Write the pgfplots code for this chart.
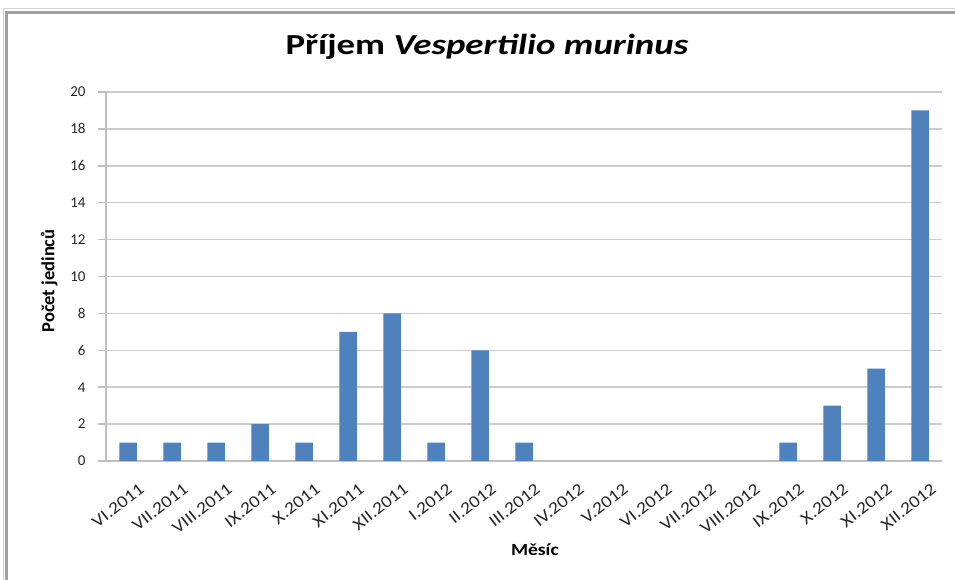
\documentclass[border=0pt]{standalone}
\usepackage{fontspec}
\setmainfont{Carlito}
\newfontfamily\titlefont[FakeStretch=1.27]{Carlito}
\newfontfamily\wfont[FakeStretch=1.15]{Carlito}
\newfontfamily\tfont[FakeStretch=1.15]{Carlito}
\usepackage{pgfplots}
\pgfplotsset{compat=1.18}
\definecolor{barblue}{HTML}{4F81BD}
\definecolor{gridgray}{HTML}{CCCCCC}
\definecolor{axgray}{HTML}{BFBFBF}
\definecolor{txt}{HTML}{262626}
\begin{document}
\begin{tikzpicture}[x=1pt,y=1pt]
\useasboundingbox (0,0) rectangle (955,580);
\fill[white] (0,0) rectangle (955,580);
\draw[line width=1pt, color=gray!35] (3,0) -- (3,571) -- (955,571);
\draw[line width=2.5pt, color=gray!75] (6.5,0) -- (6.5,567.5) -- (955,567.5);
\node[font=\titlefont\bfseries\fontsize{29}{33}\selectfont, text=black] at (487pt,533pt) {Příjem \textit{Vespertilio murinus}};
\begin{axis}[
  at={(106pt,119pt)}, anchor=south west,
  scale only axis, width=836pt, height=369pt,
  ymin=0, ymax=20, xmin=-0.5, xmax=18.5,
  ytick={0,2,...,20},
  xtick={0,...,18},
  xticklabels={VI.2011,VII.2011,VIII.2011,IX.2011,X.2011,XI.2011,XII.2011,I.2012,II.2012,III.2012,IV.2012,V.2012,VI.2012,VII.2012,VIII.2012,IX.2012,X.2012,XI.2012,XII.2012},
  x tick label style={rotate=38, anchor=north east, inner sep=0pt, xshift=0pt, yshift=-17pt, font=\tfont\fontsize{17}{19}\selectfont, text=txt},
  y tick label style={xshift=-9pt, font=\fontsize{15}{17}\selectfont, text=txt},
  /pgf/number format/assume math mode=true,
  ybar, bar width=17.5pt,
  ymajorgrids, grid style={gridgray, line width=1.5pt},
  axis x line*=bottom, axis y line*=left,
  x axis line style={axgray, line width=2.2pt},
  y axis line style={axgray, line width=1.6pt},
  xtick style={draw=none},
  ytick style={axgray, line width=1.5pt},
  tick align=outside, major tick length=8pt,
  ylabel={\bfseries Počet jedinců},
  xlabel={\bfseries Měsíc},
  every axis y label/.style={at={(axis description cs:-0.068,0.488)}, rotate=90, anchor=center, font=\fontsize{18.5}{20}\selectfont, text=black},
  every axis x label/.style={at={(axis description cs:0.513,-0.241)}, anchor=center, font=\wfont\fontsize{17}{19}\selectfont, text=black},
]
\addplot[fill=barblue, draw=none] coordinates {
(0,1) (1,1) (2,1) (3,2) (4,1) (5,7) (6,8) (7,1) (8,6) (9,1)
(15,1) (16,3) (17,5) (18,19)};
\end{axis}
\end{tikzpicture}
\end{document}
